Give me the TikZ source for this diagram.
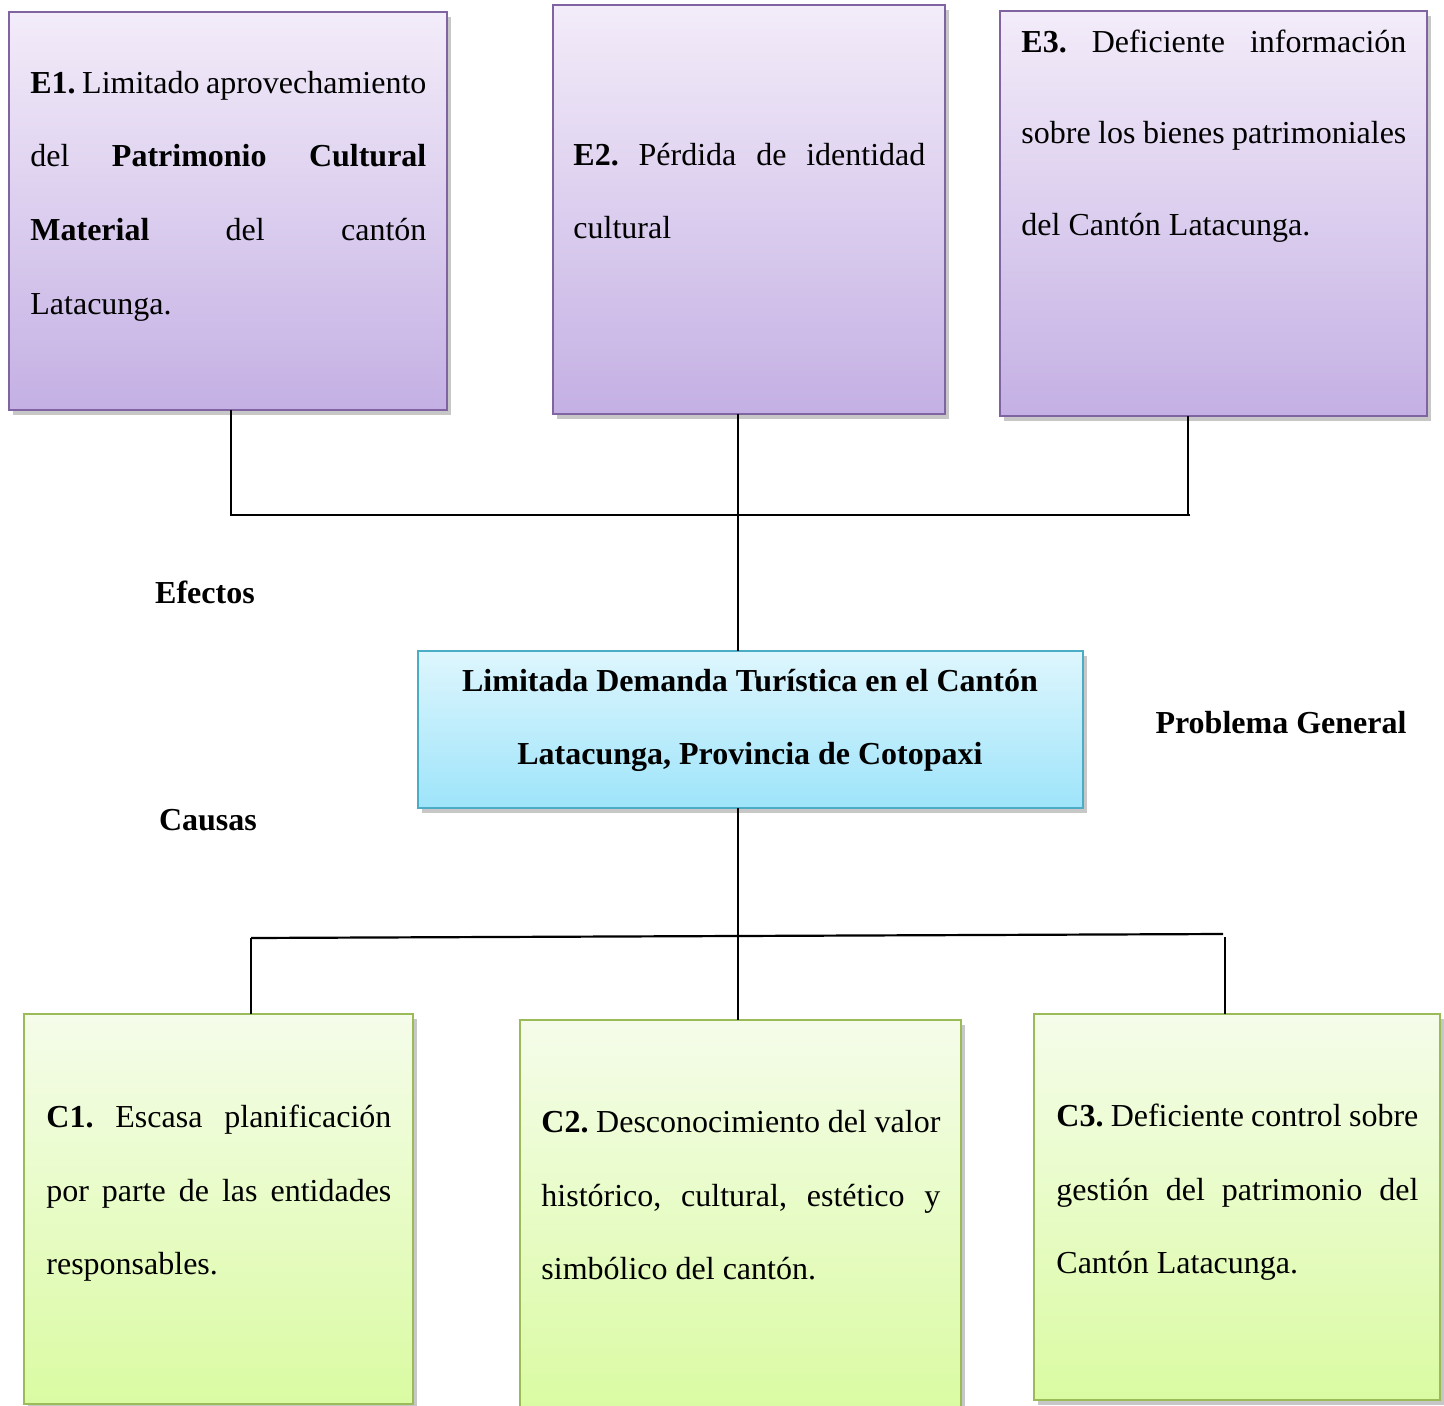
\documentclass[tikz,border=0pt]{standalone}
\usepackage{fontspec}
\setmainfont{Liberation Serif}
\usetikzlibrary{shadows}
\definecolor{pTop}{RGB}{243,236,249}
\definecolor{pBot}{RGB}{196,176,228}
\definecolor{pLine}{RGB}{128,100,162}
\definecolor{bTop}{RGB}{222,246,253}
\definecolor{bBot}{RGB}{158,228,250}
\definecolor{bLine}{RGB}{75,172,198}
\definecolor{gTop}{RGB}{245,252,234}
\definecolor{gBot}{RGB}{218,251,162}
\definecolor{gLine}{RGB}{155,187,89}
\newcommand\jl[2]{\makebox[#1][s]{#2}}
\newcommand\fl{\spaceskip=0pt\xspaceskip=0pt\rule{0pt}{16pt}}
\frenchspacing
\begin{document}
\begin{tikzpicture}[x=0.5pt,y=-0.5pt,
  boxbase/.style={rectangle, inner sep=0pt, outer sep=0pt, line width=1pt,
    drop shadow={shadow xshift=2pt, shadow yshift=-2.5pt, opacity=0.22, fill=black}},
  purplebox/.style={boxbase, draw=pLine, top color=pTop, bottom color=pBot},
  bluebox/.style={boxbase, draw=bLine, top color=bTop, bottom color=bBot},
  greenbox/.style={boxbase, draw=gLine, top color=gTop, bottom color=gBot},
  txt/.style={anchor=north west, inner sep=0pt, align=left,
    font=\fontsize{16pt}{36.8pt}\selectfont},
  lbl/.style={anchor=base, inner sep=0pt, font=\fontsize{16pt}{19pt}\selectfont\bfseries},
  conn/.style={line width=0.8pt, black}]
\useasboundingbox (0,0) rectangle (1444,1406);
% effect boxes
\node[purplebox, minimum width=219pt, minimum height=199pt] (e1) at (228,211) {};
\node[purplebox, minimum width=196pt, minimum height=204.5pt] (e2) at (749,209.5) {};
\node[purplebox, minimum width=213.5pt, minimum height=202.5pt] (e3) at (1213.5,213.5) {};
% problem box
\node[bluebox, minimum width=332.5pt, minimum height=78.5pt] (prob) at (750.5,729.5) {};
% cause boxes
\node[greenbox, minimum width=194.5pt, minimum height=195pt] (c1) at (218.5,1209) {};
\node[greenbox, minimum width=220.5pt, minimum height=195pt] (c2) at (740.5,1215) {};
\node[greenbox, minimum width=203pt, minimum height=193pt] (c3) at (1237,1207) {};
% texts
\node[txt, text width=198pt] (t1) at (30,61) {\fl\jl{198pt}{\textbf{E1.} Limitado aprovechamiento}\\
\jl{198pt}{del \textbf{Patrimonio} \textbf{Cultural}}\\
\jl{198pt}{\textbf{Material} del cantón}\\
Latacunga.};
\node[txt, text width=176pt] (t2) at (573,133) {\fl\jl{176pt}{\textbf{E2.} Pérdida de identidad}\\
cultural};
\node[txt, text width=192.5pt, font=\fontsize{16pt}{45.8pt}\selectfont] (t3) at (1021,20) {\fl\jl{192.5pt}{\textbf{E3.} Deficiente información}\\
\jl{192.5pt}{sobre los bienes patrimoniales}\\
del Cantón Latacunga.};
\node[txt, anchor=north, align=center, font=\fontsize{16pt}{36.5pt}\selectfont\bfseries] (tp) at (750,659) {\fl Limitada Demanda Turística en el Cantón\\
Latacunga, Provincia de Cotopaxi};
\node[txt, text width=172.5pt] (tc1) at (46,1095) {\fl\jl{172.5pt}{\textbf{C1.} Escasa planificación}\\
\jl{172.5pt}{por parte de las entidades}\\
responsables.};
\node[txt, text width=199.5pt] (tc2) at (541,1100) {\fl\jl{199.5pt}{\textbf{C2.} Desconocimiento del valor}\\
\jl{199.5pt}{histórico, cultural, estético y}\\
simbólico del cantón.};
\node[txt, text width=181pt] (tc3) at (1056,1094) {\fl\jl{181pt}{\textbf{C3.} Deficiente control sobre}\\
\jl{181pt}{gestión del patrimonio del}\\
Cantón Latacunga.};
% labels
\node[lbl] (efectos) at (205,603) {Efectos};
\node[lbl] (causas) at (208,830) {Causas};
\node[lbl] (pg) at (1281,733) {Problema General};
% connectors
\coordinate (jl) at (231,515);
\coordinate (jt) at (738,515);
\coordinate (jr) at (1188,515);
\draw[conn] (e1.south -| jl) -- (jl);
\draw[conn] (e3.south -| jr) -- (jr);
\draw[conn] (230,515) -- (1190,515);
\draw[conn] (e2.south -| jt) -- (prob.north -| jt);
\coordinate (bl) at (251,938);
\coordinate (br) at (1223,934);
\coordinate (bc) at (738,936);
\coordinate (br2) at (1225,937);
\draw[conn] (prob.south -| bc) -- (c2.north -| bc);
\draw[line width=1.1pt] (bl) -- (br);
\draw[conn] (bl) -- (c1.north -| bl);
\draw[conn] (br2) -- (c3.north -| br2);
\end{tikzpicture}
\end{document}
